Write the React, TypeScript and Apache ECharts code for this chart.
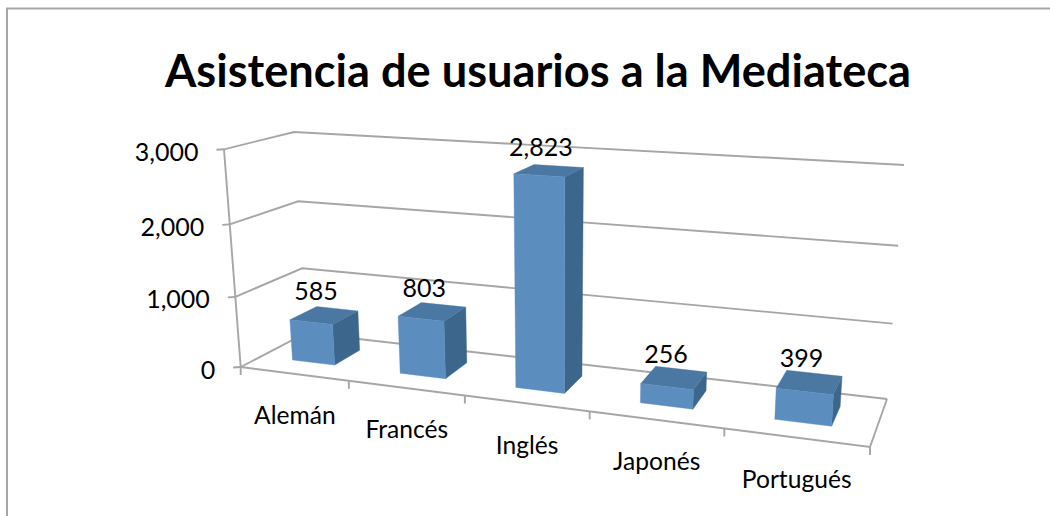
import React, { useEffect, useRef } from "react";
import * as echarts from "echarts";

const titleText = "Asistencia de usuarios a la Mediateca";
const categories = ["Alemán", "Francés", "Inglés", "Japonés", "Portugués"];
const values = [585, 803, 2823, 256, 399];
const valueTicks = [0, 1000, 2000, 3000];
const valueMax = 3000;

// perspective frame of the 3D box (layout, not data)
const FRONT_BOTTOM_L = [240.7, 367];
const FRONT_BOTTOM_R = [870, 447];
const BACK_BOTTOM_L = [306, 333];
const BACK_BOTTOM_R = [887, 399];
const FRONT_TOP_L = [224, 149.3];
const FRONT_TOP_R = [886, 190];
const BACK_TOP_L = [294, 132];
const BACK_TOP_R = [904, 165];
const U_WARP = 0.83;
const H_WARP = 0.95;
const BAR_HALF = 0.04;
const BAR_V0 = 0.32;
const BAR_V1 = 0.74;

const GRID_COLOR = "#a6a6a6";
const FRONT_COLOR = "#5b8dbf";
const SIDE_COLOR = "#3c668c";
const TOP_COLOR = "#4a78a3";
const FONT = "Lato";

const mix = (a: number[], b: number[], t: number) => [a[0] + (b[0] - a[0]) * t, a[1] + (b[1] - a[1]) * t];
const warp = (t: number, k: number) => (k * t) / (1 + (k - 1) * t);
function project(u: number, v: number, h: number) {
  const uw = warp(u, U_WARP);
  const hw = warp(h, H_WARP);
  const bottom = mix(mix(FRONT_BOTTOM_L, FRONT_BOTTOM_R, uw), mix(BACK_BOTTOM_L, BACK_BOTTOM_R, uw), v);
  const top = mix(mix(FRONT_TOP_L, FRONT_TOP_R, uw), mix(BACK_TOP_L, BACK_TOP_R, uw), v);
  return mix(bottom, top, hw);
}
const lineEl = (points: number[][], width = 1.9) => ({
  type: "polyline",
  shape: { points },
  style: { stroke: GRID_COLOR, lineWidth: width, fill: "none" },
  silent: true,
});
const textEl = (text: string, x: number, y: number, size: number, align: string) => ({
  type: "text",
  x,
  y,
  style: { text, fontFamily: FONT, fontSize: size, fill: "#000", align, verticalAlign: "middle" },
  silent: true,
});

export default function App() {
  const ref = useRef<HTMLDivElement>(null);
  useEffect(() => {
    const chart = echarts.init(ref.current!, undefined, { renderer: "svg" });
    const normal = (params: any, api: any, cat: number, val: number) => {
      const cs = params.coordSys;
      const p = api.coord([cat, val]);
      return {
        u: (p[0] - cs.x) / cs.width,
        h: (cs.y + cs.height - p[1]) / cs.height,
        half: (api.size([1, 0])[0] / cs.width) * (BAR_HALF / 0.2),
        band: api.size([1, 0])[0] / cs.width,
      };
    };
    chart.setOption({
      animation: false,
      backgroundColor: "#fff",
      title: {
        text: titleText,
        left: 533,
        top: 42,
        textAlign: "center",
        textStyle: { fontFamily: FONT, fontWeight: "bold", fontSize: 45.2, color: "#000" },
      },
      grid: { left: 100, right: 100, top: 100, bottom: 100 },
      xAxis: { type: "category", data: categories, show: false },
      yAxis: { type: "value", min: 0, max: valueMax, interval: 1000, show: false },
      graphic: [
        {
          type: "polyline",
          shape: { points: [[7, 516], [7, 8.5], [1050, 8.5]] },
          style: { stroke: "#a6a6a6", lineWidth: 2, fill: "none" },
          silent: true,
        },
      ],
      series: [
        {
          // back walls, gridlines and value axis
          type: "custom",
          z: 1,
          silent: true,
          data: valueTicks.map((t) => [0, t]),
          renderItem: (params: any, api: any) => {
            const v = api.value(1);
            const { h } = normal(params, api, 0, v);
            const a = project(0, 0, h);
            const b = project(0, 1, h);
            const c = project(1, 1, h);
            const children: any[] = [
              lineEl([a, b, c]),
              lineEl([[a[0] - 7.5, a[1] + 0.5], a]),
              textEl(v.toLocaleString("en-US"), a[0] - 25.5, a[1] + 1.5, 25, "right"),
            ];
            if (v === 0) {
              children.push(lineEl([project(0, 0, 0), project(0, 0, 1)]));
              children.push(lineEl([project(0, 0, 0), project(1, 0, 0), project(1, 1, 0)]));
            }
            return { type: "group", children };
          },
        },
        {
          // category ticks and labels
          type: "custom",
          z: 1,
          silent: true,
          data: categories.map((c, i) => [i, 0]),
          renderItem: (params: any, api: any) => {
            const i = api.value(0);
            const { u, band } = normal(params, api, i, 0);
            const left = project(u - band / 2, 0, 0);
            const right = project(u + band / 2, 0, 0);
            const mid = project(u, 0, 0);
            const children: any[] = [
              lineEl([left, [left[0], left[1] + 8]]),
              textEl(categories[i], mid[0] + 1, mid[1] + 41, 24.6, "center"),
            ];
            if (i === categories.length - 1) children.push(lineEl([right, [right[0], right[1] + 8]]));
            return { type: "group", children };
          },
        },
        {
          // the bars
          type: "custom",
          z: 2,
          silent: true,
          data: values.map((v, i) => [i, v]),
          renderItem: (params: any, api: any) => {
            const i = api.value(0);
            const v = api.value(1);
            const { u, h, half } = normal(params, api, i, v);
            const u0 = u - half;
            const u1 = u + half;
            const poly = (pts: number[][], fill: string) => ({
              type: "polygon",
              shape: { points: pts },
              style: { fill, stroke: fill, lineWidth: 0.4 },
              silent: true,
            });
            const topC = project(u, (BAR_V0 + BAR_V1) / 2, h);
            return {
              type: "group",
              children: [
                poly([project(u1, BAR_V0, 0), project(u1, BAR_V1, 0), project(u1, BAR_V1, h), project(u1, BAR_V0, h)], SIDE_COLOR),
                poly([project(u0, BAR_V0, h), project(u1, BAR_V0, h), project(u1, BAR_V1, h), project(u0, BAR_V1, h)], TOP_COLOR),
                poly([project(u0, BAR_V0, 0), project(u1, BAR_V0, 0), project(u1, BAR_V0, h), project(u0, BAR_V0, h)], FRONT_COLOR),
                textEl(v.toLocaleString("en-US"), topC[0] - 8, topC[1] - 25, 25, "center"),
              ],
            };
          },
        },
      ],
    });
    return () => chart.dispose();
  }, []);
  return <div ref={ref} style={{ position: "absolute", left: 0, top: 0, width: 1050, height: 516 }} />;
}
